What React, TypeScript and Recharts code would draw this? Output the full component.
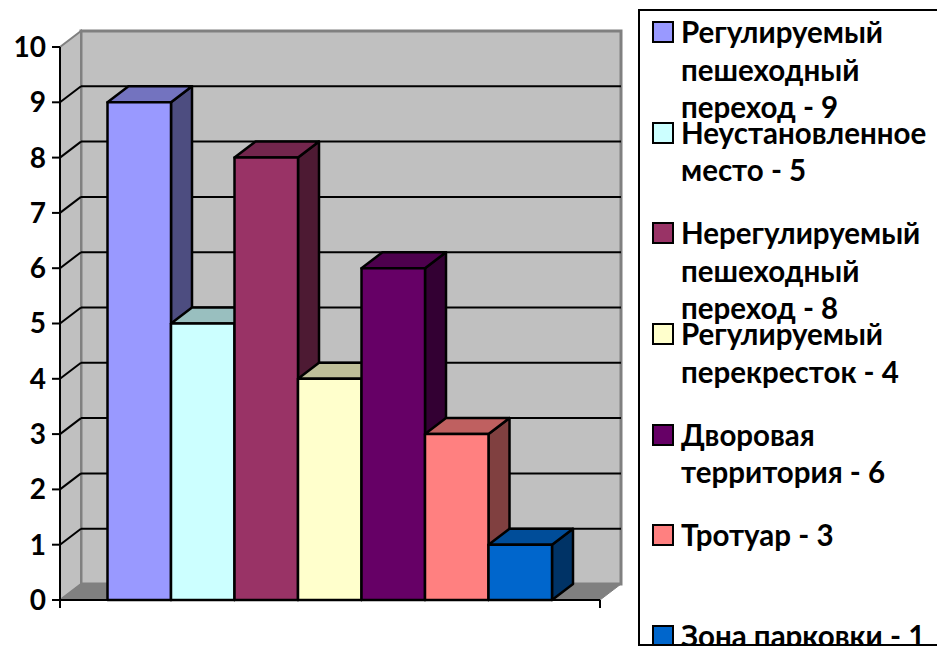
import { BarChart, Bar, XAxis, YAxis, CartesianGrid, Legend, usePlotArea } from "recharts";

const categories = [
  "Регулируемый пешеходный переход",
  "Неустановленное место",
  "Нерегулируемый пешеходный переход",
  "Регулируемый перекресток",
  "Дворовая территория",
  "Тротуар",
  "Зона парковки",
];
const values = [9, 5, 8, 4, 6, 3, 1];
const colors = ["#9999ff", "#ccffff", "#993366", "#ffffcc", "#660066", "#ff8080", "#0066cc"];
const yTicks = [0, 1, 2, 3, 4, 5, 6, 7, 8, 9, 10];

const row: Record<string, number | string> = { name: "" };
categories.forEach((c, i) => {
  row[c] = values[i];
});
const chartData = [row];

const FONT = "Lato, 'Noto Sans', sans-serif";
// 3D offset of the back wall
const DX = 21;
const DY = 16;

function shade(hex: string, f: number) {
  const n = parseInt(hex.slice(1), 16);
  const r = Math.round(((n >> 16) & 255) * f);
  const g = Math.round(((n >> 8) & 255) * f);
  const b = Math.round((n & 255) * f);
  return `rgb(${r},${g},${b})`;
}

function Box3D(props: any) {
  const { x, y, width: w, height: h, fill } = props;
  const pts = (a: number[][]) => a.map((p) => p.join(",")).join(" ");
  const edge = { stroke: "#000", strokeWidth: 2.5, strokeLinejoin: "round" as const };
  return (
    <g transform="translate(-0.5,0)">
      <polygon
        points={pts([[x + w, y], [x + w + DX, y - DY], [x + w + DX, y + h - DY], [x + w, y + h]])}
        fill={shade(fill, 0.5)}
        {...edge}
      />
      <polygon
        points={pts([[x, y], [x + DX, y - DY], [x + w + DX, y - DY], [x + w, y]])}
        fill={shade(fill, 0.75)}
        {...edge}
      />
      <rect x={x} y={y} width={w} height={h} fill={fill} {...edge} />
    </g>
  );
}

function Walls() {
  const area = usePlotArea();
  if (!area) return null;
  const { x, y, width: w, height: h } = area;
  const b = y + h;
  const r = x + w;
  return (
    <g>
      <polygon
        points={`${x + DX},${y - DY} ${r + DX},${y - DY} ${r + DX},${b - DY} ${x + DX},${b - DY}`}
        fill="#c0c0c0"
        stroke="#808080"
        strokeWidth={3}
      />
      <polygon
        points={`${x},${y} ${x + DX},${y - DY} ${x + DX},${b - DY} ${x},${b}`}
        fill="#c0c0c0"
        stroke="#808080"
        strokeWidth={2}
      />
      <polygon
        points={`${x},${b} ${x + DX},${b - DY} ${r + DX},${b - DY} ${r},${b}`}
        fill="#808080"
        stroke="#808080"
        strokeWidth={1}
      />
    </g>
  );
}

function EndTicks() {
  const area = usePlotArea();
  if (!area) return null;
  const { x, y, width: w, height: h } = area;
  const b = y + h;
  return (
    <g stroke="#000" strokeWidth={2}>
      <line x1={x} y1={b} x2={x} y2={b + 8} />
      <line x1={x + w} y1={b} x2={x + w} y2={b + 8} />
    </g>
  );
}

function GridLine(props: any) {
  const { x1, x2, y1, index } = props;
  // the walls go in with the first grid line so the lines land on top of them
  if (index === 0) return <Walls />;
  // 10 sits on the top edge of the wall
  if (index === yTicks.length - 1) return <g />;
  return (
    <g stroke="#000" strokeWidth={2}>
      <line x1={x1} y1={y1} x2={x1 + DX} y2={y1 - DY} />
      <line x1={x1 + DX} y1={y1 - DY} x2={x2 + DX} y2={y1 - DY} />
    </g>
  );
}

function LegendBox() {
  return (
    <div
      style={{
        width: 310,
        height: 637,
        boxSizing: "border-box",
        border: "2.5px solid #000",
        overflow: "hidden",
        background: "#fff",
        paddingTop: 2,
        fontFamily: FONT,
        fontWeight: 700,
        fontSize: 29.5,
        lineHeight: "37.5px",
        color: "#000",
      }}
    >
      {categories.map((c, i) => (
        <div key={c} style={{ height: 100.7, position: "relative", paddingLeft: 41 }}>
          <span
            style={{
              position: "absolute",
              left: 12,
              top: 8,
              width: 18,
              height: 18,
              background: colors[i],
              border: "2px solid #000",
            }}
          />
          <div style={{ width: 254 }}>{`${c} - ${values[i]}`}</div>
        </div>
      ))}
    </div>
  );
}

export default function App() {
  return (
    <div style={{ position: "absolute", left: 0, top: 0, width: 937, height: 650, overflow: "hidden", background: "#fff" }}>
      <BarChart
        width={937}
        height={650}
        data={chartData}
        margin={{ top: 47, right: 337, bottom: 0, left: 0 }}
        barSize={63.5}
        barGap={0}
      >
        <CartesianGrid vertical={false} horizontal={(p: any) => <GridLine {...p} />} />
        <XAxis dataKey="name" height={50} tick={false} tickLine={false} axisLine={{ stroke: "#000", strokeWidth: 2 }} />
        <YAxis
          width={60}
          domain={[0, 10]}
          ticks={yTicks}
          interval={0}
          tickSize={8}
          tickMargin={6}
          tickLine={{ stroke: "#000", strokeWidth: 2 }}
          axisLine={{ stroke: "#000", strokeWidth: 2 }}
          tick={{ fill: "#000", fontSize: 28, fontWeight: 700, fontFamily: FONT }}
        />
        <EndTicks />
        {categories.map((c, i) => (
          <Bar key={c} dataKey={c} fill={colors[i]} shape={Box3D} isAnimationActive={false} />
        ))}
        <Legend
          layout="horizontal"
          verticalAlign="middle"
          align="center"
          wrapperStyle={{ left: 638, top: 9, width: 310, height: 637, bottom: "auto", right: "auto" }}
          content={() => <LegendBox />}
        />
      </BarChart>
    </div>
  );
}
